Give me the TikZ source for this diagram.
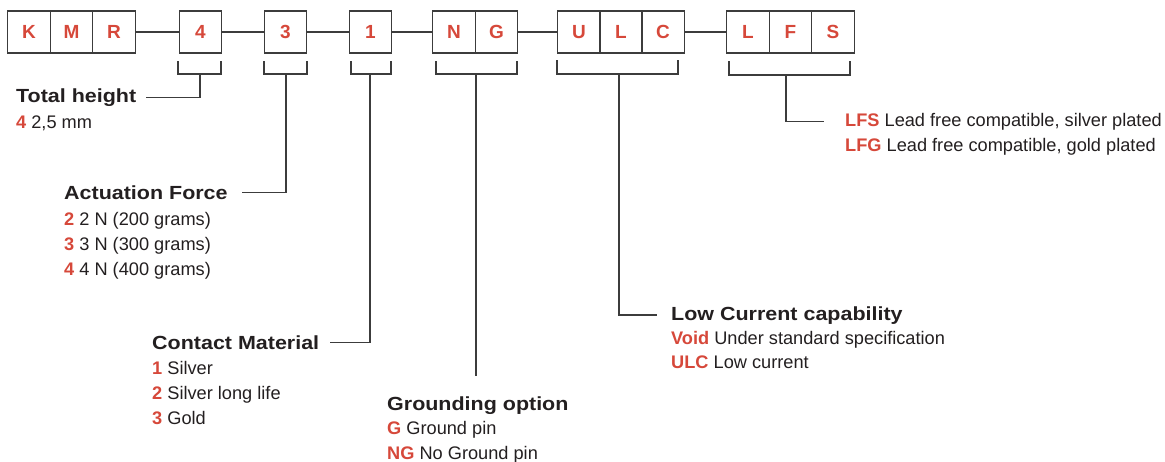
\documentclass[tikz,border=0pt]{standalone}
\usepackage{fontspec}
\setmainfont{Liberation Sans}
\newfontfamily\headfont{Liberation Sans}[FakeStretch=1.13]
\definecolor{kred}{RGB}{214,72,58}
\definecolor{ktxt}{RGB}{35,31,32}
\definecolor{kline}{RGB}{60,60,60}
\newcommand\kcode[1]{\textcolor{kred}{\bfseries #1}}
\begin{document}
\begin{tikzpicture}[x=1pt,y=-1pt,
  cell/.style={draw=kline, line width=1.3pt, minimum width=42.5pt, minimum height=42pt, inner sep=0pt, text=kred, font=\fontsize{19}{21}\selectfont\bfseries},
  head/.style={anchor=base west, inner sep=0pt, text=ktxt, font=\headfont\fontsize{19}{22}\selectfont\bfseries},
  item/.style={anchor=base west, inner sep=0pt, text=ktxt, font=\fontsize{18.2}{20}\selectfont},
  conn/.style={draw=kline, line width=1.2pt}]
\useasboundingbox (0,0) rectangle (1165,461);
% code cells
\node[cell] (K) at (29,32) {K};
\node[cell] (M) at (71.5,32) {M};
\node[cell] (R) at (114,32) {R};
\node[cell] (h4) at (200.5,32) {4};
\node[cell] (f3) at (285.5,32) {3};
\node[cell] (m1) at (370.5,32) {1};
\node[cell] (gN) at (454,32) {N};
\node[cell] (gG) at (496.5,32) {G};
\node[cell] (uU) at (579,32) {U};
\node[cell] (uL) at (621,32) {L};
\node[cell] (uC) at (663,32) {C};
\node[cell] (lL) at (748,32) {L};
\node[cell] (lF) at (790.5,32) {F};
\node[cell] (lS) at (833,32) {S};
\draw[conn] (R.east) -- (h4.west);
\draw[conn] (h4.east) -- (f3.west);
\draw[conn] (f3.east) -- (m1.west);
\draw[conn] (m1.east) -- (gN.west);
\draw[conn] (gG.east) -- (uU.west);
\draw[conn] (uC.east) -- (lL.west);
% brackets
\draw[conn] (178,61) -- (178,74) -- (221,74) -- (221,61);
\draw[conn] (264,61) -- (264,74) -- (307,74) -- (307,61);
\draw[conn] (351,61) -- (351,74) -- (391,74) -- (391,61);
\draw[conn] (436,61) -- (436,74) -- (517,74) -- (517,61);
\draw[conn] (557,60) -- (557,74) -- (678,74) -- (678,60);
\draw[conn] (729,61) -- (729,75) -- (850,75) -- (850,61);
\coordinate (b4) at (200,74);
\coordinate (b3) at (286,74);
\coordinate (b1) at (370,74);
\coordinate (bNG) at (476,74);
\coordinate (bULC) at (619,74);
\coordinate (bLFS) at (786,75);
\coordinate (eNG) at (476,376);
% texts
\node[head] (th) at (16,102) {Total height};
\node[item] (th1) at (16,128) {\kcode{4} 2,5 mm};
\node[head] (af) at (64,199) {Actuation Force};
\node[item] (af1) at (64,225) {\kcode{2} 2 N (200 grams)};
\node[item] (af2) at (64,250) {\kcode{3} 3 N (300 grams)};
\node[item] (af3) at (64,275) {\kcode{4} 4 N (400 grams)};
\node[head] (cm) at (152,349) {Contact Material};
\node[item] (cm1) at (152,374) {\kcode{1} Silver};
\node[item] (cm2) at (152,399) {\kcode{2} Silver long life};
\node[item] (cm3) at (152,424) {\kcode{3} Gold};
\node[head] (go) at (387,410) {Grounding option};
\node[item] (go1) at (387,434) {\kcode{G} Ground pin};
\node[item] (go2) at (387,459) {\kcode{NG} No Ground pin};
\node[head] (lc) at (671,320) {Low Current capability};
\node[item] (lc1) at (671,344) {\kcode{Void} Under standard specification};
\node[item] (lc2) at (671,368) {\kcode{ULC} Low current};
\node[item] (lf1) at (845,126) {\kcode{LFS} Lead free compatible, silver plated};
\node[item] (lf2) at (845,151) {\kcode{LFG} Lead free compatible, gold plated};
% leaders
\draw[conn] (b4) |- ([xshift=10pt]th.east);
\draw[conn] (b3) |- ([xshift=14pt]af.east);
\draw[conn] (b1) |- ([xshift=11pt]cm.east);
\draw[conn] (bNG) -- (eNG);
\draw[conn] (bULC) |- ([xshift=-14pt]lc.west);
\draw[conn] (bLFS) |- ([xshift=-21pt]lf1.west);
\end{tikzpicture}
\end{document}
